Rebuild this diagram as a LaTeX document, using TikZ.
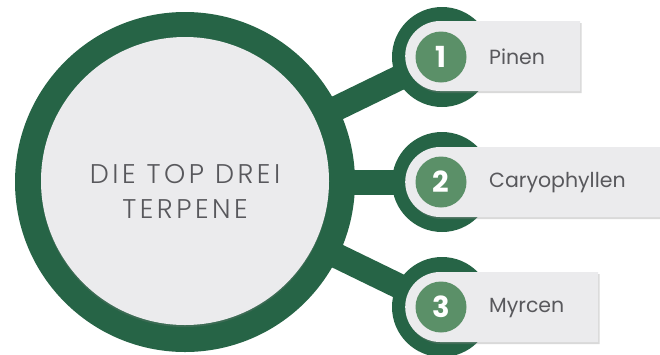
\documentclass[tikz,border=0pt]{standalone}
\usepackage{fontspec}
\setmainfont{Poppins}
\newfontfamily\titlefont{Poppins Light}[LetterSpace=13]
\usetikzlibrary{shapes.misc,shadows,backgrounds}
\definecolor{dkgreen}{RGB}{38,100,70}
\definecolor{numgreen}{RGB}{91,144,104}
\definecolor{lightgrey}{RGB}{235,235,237}
\definecolor{txtgrey}{RGB}{88,88,92}
\tikzset{
  hubring/.style={circle, fill=dkgreen, minimum size=340pt, inner sep=0pt},
  hubface/.style={circle, fill=lightgrey, minimum size=288pt, inner sep=0pt,
    drop shadow={shadow xshift=0pt, shadow yshift=-2pt, opacity=0.25}},
  ring/.style={circle, fill=dkgreen, minimum size=100pt, inner sep=0pt},
  link/.style={draw=dkgreen, line width=25pt},
  pill/.style={rounded rectangle, rounded rectangle right arc=none, fill=lightgrey,
    minimum height=70pt, inner sep=0pt, anchor=west,
    drop shadow={shadow xshift=1.5pt, shadow yshift=-2pt, opacity=0.3}},
  numdot/.style={circle, fill=numgreen, minimum size=51pt, inner sep=0pt,
    text=white, font=\fontsize{29}{30}\selectfont\bfseries},
  label/.style={anchor=west, text=txtgrey, inner sep=0pt, font=\fontsize{20.5}{24}\selectfont},
  title/.style={align=center, text=txtgrey, inner sep=0pt,
    font=\titlefont\fontsize{27}{35}\selectfont}
}
\begin{document}
\begin{tikzpicture}[x=1pt,y=-1pt]
\useasboundingbox (0,0) rectangle (660,354);
% rings
\node[hubring] (hub) at (185,182) {};
\node[ring] (r1) at (442,57) {};
\node[ring] (r2) at (442,182) {};
\node[ring] (r3) at (442,307) {};
% connectors behind the rings
\begin{scope}[on background layer]
\draw[link] (hub.center) -- (r1.center);
\draw[link] (hub.center) -- (r2.center);
\draw[link] (hub.center) -- (r3.center);
\end{scope}
% hub face
\node[hubface] (face) at (185,181) {};
\node[title] (title) at (185,191) {DIE TOP DREI\\TERPENE};
% boxes
\node[pill, minimum width=175pt] (b1) at (405,56) {};
\node[pill, minimum width=257pt] (b2) at (405,182) {};
\node[pill, minimum width=193pt] (b3) at (405,307) {};
% number dots
\node[numdot] (n1) at (441,57) {1};
\node[numdot] (n2) at (441,182) {2};
\node[numdot] (n3) at (441,307) {3};
% labels
\node[label] (t1) at (489,57) {Pinen};
\node[label] (t2) at (489,183) {Caryophyllen};
\node[label] (t3) at (489,308) {Myrcen};
\end{tikzpicture}
\end{document}
